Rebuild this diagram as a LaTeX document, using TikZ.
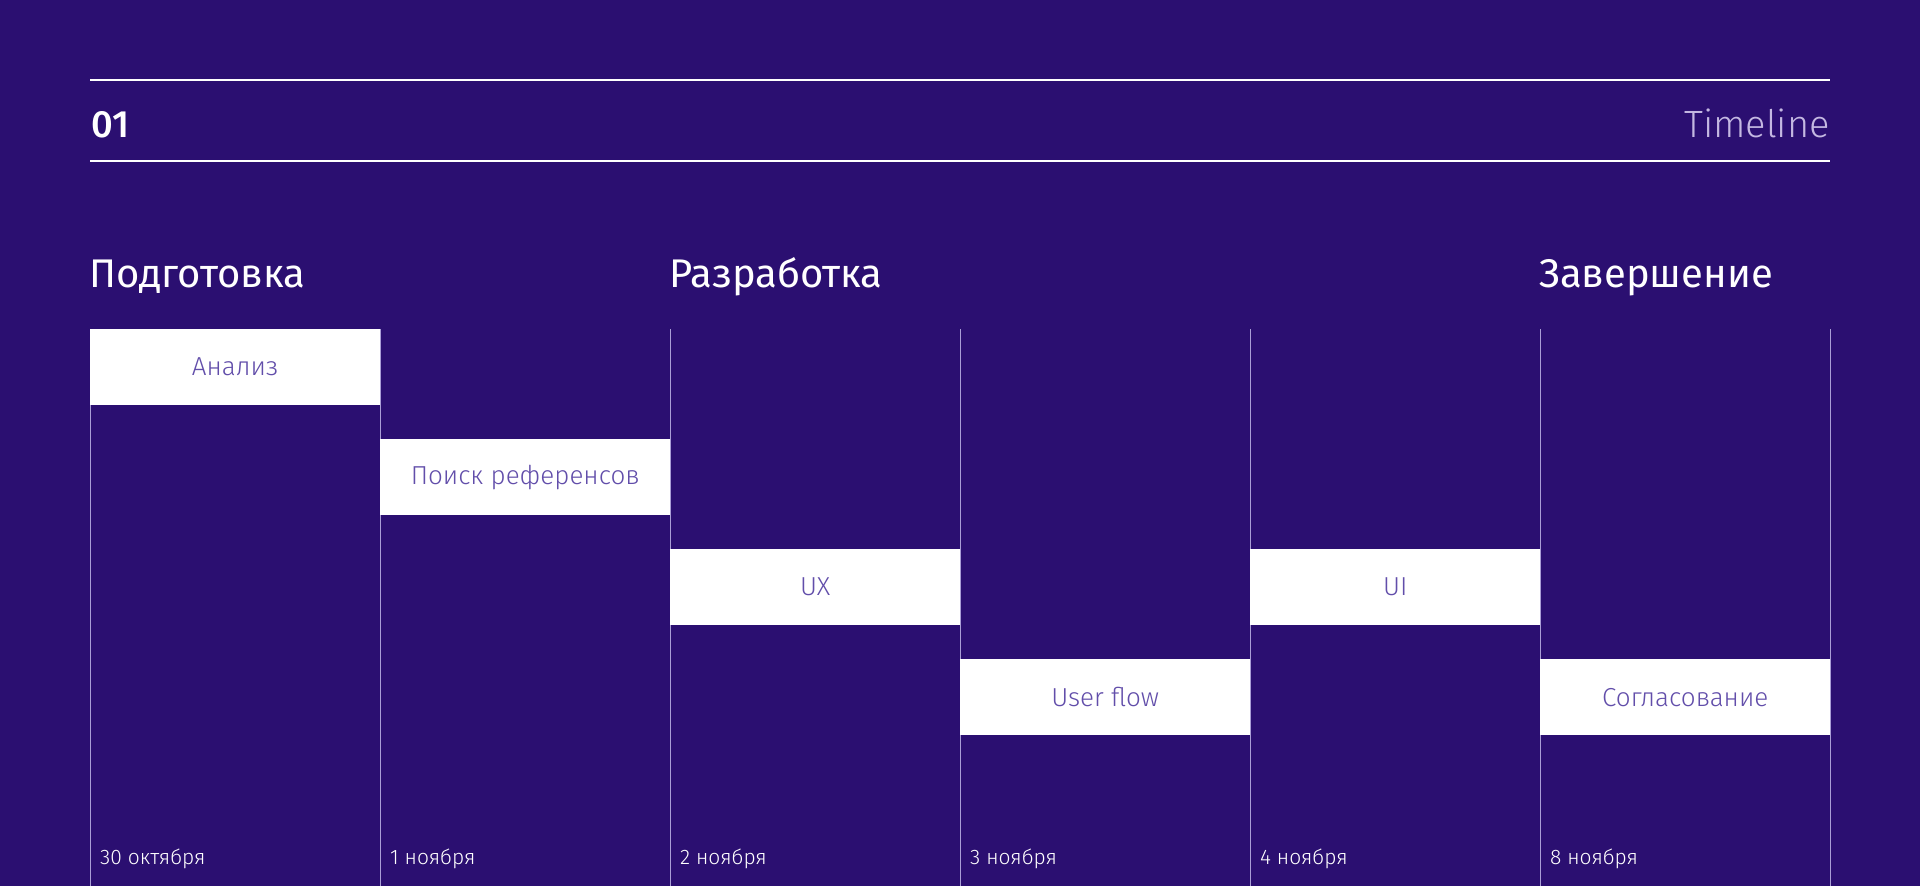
\documentclass[tikz,border=0pt]{standalone}
\usepackage{fontspec}
\setmainfont{Fira Sans Light}[BoldFont={Fira Sans Medium}]
\newfontfamily\headfont{Fira Sans}
\definecolor{bgviolet}{RGB}{43,15,113}
\definecolor{boxtext}{RGB}{98,78,170}
\definecolor{softlav}{RGB}{196,184,226}
\definecolor{gridline}{RGB}{170,158,214}

\begin{document}
\begin{tikzpicture}[x=1pt,y=-1pt]
        \tikzstyle{phase}=[anchor=base west,inner sep=0,text=white,font=\headfont\fontsize{40}{42}\selectfont]
        \tikzstyle{task}=[rectangle,fill=white,anchor=north west,minimum width=290pt,minimum height=76pt,inner sep=0,text=boxtext,font=\fontsize{26}{28}\selectfont]
        \tikzstyle{day}=[anchor=base west,inner sep=0,text=white,font=\fontsize{21}{24}\selectfont]
        \fill[bgviolet] (0,0) rectangle (1920,886);
        % header
        \draw[white,line width=1.2pt] (90,80) -- (1830,80);
        \draw[white,line width=1.2pt] (90,161) -- (1830,161);
        \node[anchor=base west,inner sep=0,text=white,font=\bfseries\fontsize{38}{40}\selectfont] (num) at (91,137) {01};
        \node[anchor=base east,inner sep=0,text=softlav,font=\fontsize{38}{40}\selectfont] (title) at (1830,137) {Timeline};
        % phases
        \node[phase] (prep) at (89,287) {Подготовка};
        \node[phase] (dev) at (669,287) {Разработка};
        \node[phase] (fin) at (1539,287) {Завершение};
        % columns
        \foreach \x in {90,380,...,1830}
            \draw[gridline,line width=0.8pt] (\x,329) -- (\x,886);
        \node[task] (analiz) at (90,329) {Анализ};
        \node[task] (poisk) at (380,439) {Поиск референсов};
        \node[task] (ux) at (670,549) {UX};
        \node[task] (flow) at (960,659) {User flow};
        \node[task] (ui) at (1250,549) {UI};
        \node[task] (soglas) at (1540,659) {Согласование};
        % dates
        \node[day] (d30) at (100,864) {30 октября};
        \node[day] (d1) at (390,864) {1 ноября};
        \node[day] (d2) at (680,864) {2 ноября};
        \node[day] (d3) at (970,864) {3 ноября};
        \node[day] (d4) at (1260,864) {4 ноября};
        \node[day] (d8) at (1550,864) {8 ноября};
\end{tikzpicture}
\end{document}
